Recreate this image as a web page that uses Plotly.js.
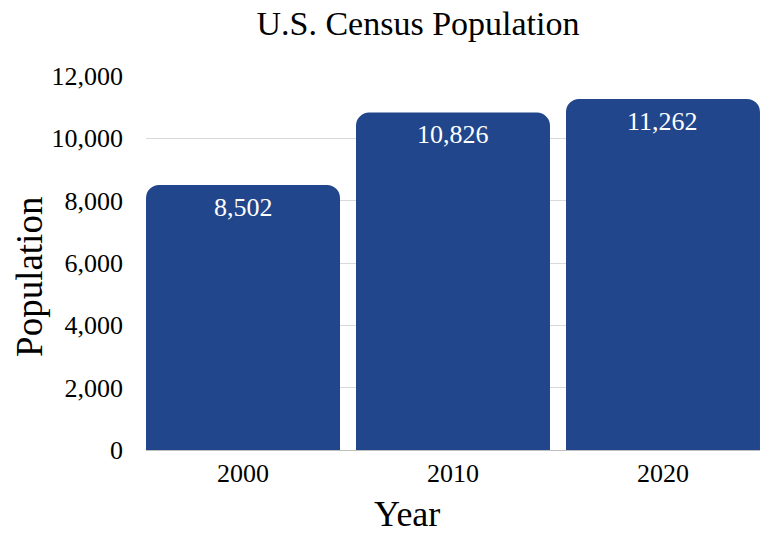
<!DOCTYPE html>
<html>
<head>
<script src="https://cdn.plot.ly/plotly-3.0.1.min.js"></script>
<style>html,body{margin:0;padding:0;background:#fff;}</style>
</head>
<body>
<div id="chart" style="width:769px;height:533px;"></div>
<script>
const years = ["2000", "2010", "2020"];
const population = [8502, 10826, 11262];
const labels = ["8,502", "10,826", "11,262"];

const font = "Liberation Serif, Times New Roman, serif";

const annotations = years.map((yr, i) => ({
  x: i, y: population[i], xref: "x", yref: "y",
  text: labels[i], showarrow: false, xanchor: "center", yanchor: "middle", yshift: -22,
  font: {family: font, size: 26, color: "#ffffff"}
}));
annotations.push({
  text: "Year", xref: "paper", yref: "paper", x: 0.425, y: -0.17,
  xanchor: "center", yanchor: "middle", showarrow: false,
  font: {family: font, size: 36, color: "#000"}
});
annotations.push({
  text: "Population", xref: "paper", yref: "paper", x: -0.189, y: 0.4626, textangle: -90,
  xanchor: "center", yanchor: "middle", showarrow: false,
  font: {family: font, size: 37, color: "#000"}
});

Plotly.newPlot("chart", [{
  type: "bar",
  x: years,
  y: population,
  marker: {color: "#21468B"},
  hoverinfo: "none"
}], {
  width: 769, height: 533,
  margin: {l: 146, r: 9, t: 76, b: 83},
  paper_bgcolor: "#ffffff", plot_bgcolor: "#ffffff",
  bargap: 0.0762,
  barcornerradius: 13,
  font: {family: font, color: "#000000"},
  showlegend: false,
  title: {text: "U.S. Census Population", font: {family: font, size: 34, color: "#000"},
          x: 418/769, xref: "container", xanchor: "center", y: 1 - 23/533, yref: "container", yanchor: "middle"},
  xaxis: {type: "category", range: [-0.462, 2.462], showgrid: false, zeroline: false, showline: false,
          ticks: "", ticklabelstandoff: 5, tickfont: {family: font, size: 26, color: "#000"}},
  yaxis: {range: [0, 12000], dtick: 2000, tickformat: ",d", gridcolor: "#d9d9d9", gridwidth: 1,
          zeroline: true, zerolinecolor: "#bfbfbf", showline: false, ticks: "",
          ticklabelstandoff: 22,
          tickfont: {family: font, size: 26, color: "#000"}},
  annotations: annotations
}, {displayModeBar: false, staticPlot: true});
</script>
</body>
</html>
